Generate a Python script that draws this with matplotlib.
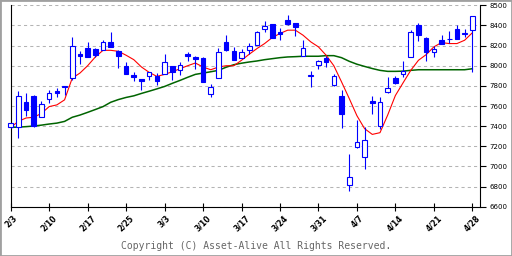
import numpy as np
import matplotlib
matplotlib.use('Agg')
import matplotlib.pyplot as plt
from matplotlib.patches import Rectangle

# Dados do grafico (leitura aproximada da imagem)
opens = [7390, 7390, 7635, 7700, 7490, 7668, 7745, 7800, 7880, 8117,
         8180, 8163, 8157, 8240, 8150, 8000, 7903, 7864, 7897, 7900,
         7917, 8000, 7957, 8117, 8090, 8074, 7717, 7877, 8233, 8144,
         8077, 8157, 8207, 8367, 8413, 8333, 8453, 8423, 8097, 7900,
         8007, 8074, 7807, 7700, 6812, 7188, 7091, 7654, 7398, 7740,
         7874, 7920, 8090, 8403, 8280, 8137, 8253, 8265, 8360, 8318,
         8350]
highs = [7435, 7745, 7734, 7705, 7654, 7761, 7781, 7802, 8283, 8144,
         8233, 8177, 8260, 8333, 8152, 8040, 7934, 7866, 7936, 7924,
         8114, 8002, 8034, 8137, 8092, 8084, 7820, 8173, 8303, 8183,
         8170, 8223, 8347, 8443, 8415, 8373, 8503, 8425, 8260, 7944,
         8060, 8100, 7914, 7761, 7124, 7464, 7394, 7704, 7691, 7884,
         7894, 8044, 8350, 8423, 8282, 8193, 8303, 8343, 8407, 8363,
         8492]
lows = [7385, 7280, 7504, 7395, 7488, 7634, 7687, 7714, 7854, 8014,
        8085, 8087, 8153, 8185, 7977, 7915, 7844, 7754, 7854, 7811,
        7915, 7854, 7907, 8047, 7970, 7835, 7694, 7875, 8151, 8052,
        8075, 8117, 8205, 8337, 8275, 8253, 8403, 8293, 8095, 7787,
        7970, 7987, 7794, 7377, 6758, 7185, 6978, 7517, 7374, 7727,
        7820, 7887, 8088, 8247, 8047, 8087, 8218, 8223, 8261, 8287,
        7937]
closes = [7430, 7700, 7560, 7400, 7620, 7730, 7728, 7787, 8200, 8100,
          8087, 8107, 8240, 8187, 8097, 7917, 7888, 7848, 7934, 7844,
          8034, 7940, 8010, 8097, 8064, 7837, 7790, 8140, 8153, 8054,
          8140, 8193, 8333, 8393, 8277, 8313, 8413, 8387, 8180, 7903,
          8044, 8037, 7900, 7517, 6891, 7244, 7261, 7631, 7644, 7780,
          7830, 7950, 8330, 8307, 8137, 8163, 8220, 8270, 8263, 8322,
          8490]

# media curta (vermelha) e media longa (verde)
ma_short = [7388, 7448, 7481, 7488, 7527, 7594, 7611, 7661, 7877, 7927,
            8000, 8087, 8153, 8153, 8143, 8104, 8060, 7987, 7934, 7894,
            7914, 7940, 7970, 8000, 8027, 7987, 7960, 7987, 8000, 8000,
            8054, 8114, 8170, 8220, 8280, 8320, 8353, 8353, 8303, 8237,
            8187, 8104, 8000, 7840, 7675, 7504, 7375, 7318, 7335, 7510,
            7704, 7830, 7954, 8054, 8110, 8187, 8230, 8220, 8220, 8253,
            8327]
ma_long = [7388, 7390, 7395, 7401, 7410, 7421, 7430, 7447, 7488, 7510,
           7537, 7565, 7594, 7637, 7664, 7685, 7701, 7725, 7747, 7770,
           7794, 7825, 7854, 7885, 7914, 7927, 7940, 7954, 7985, 8010,
           8025, 8037, 8047, 8060, 8070, 8080, 8087, 8090, 8094, 8094,
           8094, 8100, 8100, 8080, 8044, 8015, 7993, 7972, 7954, 7944,
           7944, 7946, 7954, 7960, 7960, 7960, 7960, 7960, 7960, 7960,
           7970]

date_labels = ['2/3', '2/10', '2/17', '2/25', '3/3', '3/10', '3/17',
               '3/24', '3/31', '4/7', '4/14', '4/21', '4/28']
ytick_values = [6600, 6800, 7000, 7200, 7400, 7600, 7800, 8000, 8200, 8400, 8600]
ytick_labels = ['6600', '6800', '7000', '7200', '7400', '7600', '7800',
                '8000', '8200', '8400', '8500']

blue = '#0000ff'

fig = plt.figure(figsize=(5.12, 2.56), dpi=100)
ax = fig.add_axes([10.7 / 512, 1 - 206.7 / 256, (480 - 10.7) / 512, (206.7 - 5.3) / 256])

x = np.arange(len(closes))
o = np.array(opens)
c = np.array(closes)

# linhas das medias
ax.plot(x, ma_long, color='#006400', lw=1.1, zorder=2)
ax.plot(x, ma_short, color='#ff0000', lw=0.8, zorder=2)

# candles
ax.vlines(x, lows, highs, color=blue, lw=0.8, zorder=3, clip_on=False)
up = c >= o
body_h = np.maximum(np.abs(c - o), 4)
body_bottom = np.minimum(o, c)
ax.bar(x[up], body_h[up], bottom=body_bottom[up], width=0.6,
       facecolor='white', edgecolor=blue, lw=0.8, zorder=4, clip_on=False)
ax.bar(x[~up], body_h[~up], bottom=body_bottom[~up], width=0.6,
       facecolor=blue, edgecolor=blue, lw=0.8, zorder=4, clip_on=False)

ax.set_xlim(0, 61)
ax.set_ylim(6600, 8600)

# eixos
ax.spines['top'].set_visible(False)
for s in ['left', 'bottom', 'right']:
    ax.spines[s].set_linewidth(0.8)
    ax.spines[s].set_color('black')

ax.yaxis.tick_right()
ax.set_yticks(ytick_values)
ax.set_yticklabels(ytick_labels)
ax.tick_params(axis='y', direction='out', length=4, width=0.8, labelsize=5, pad=3)

ax.set_xticks(np.arange(0, 61, 5))
ax.set_xticklabels(date_labels, rotation=45, ha='center', fontsize=5.5, fontweight='bold')
ax.tick_params(axis='x', direction='inout', length=6, width=0.8, pad=2)

ax.yaxis.grid(True, linestyle=(0, (3, 3)), color='#b4b4b4', lw=0.75)
ax.set_axisbelow(True)

fig.text(0.5, 1 - 246 / 256, 'Copyright (C) Asset-Alive All Rights Reserved.',
         ha='center', va='center', family='DejaVu Sans Mono', fontsize=7, color='#666666')

fig.add_artist(Rectangle((0, 0), 1, 1, transform=fig.transFigure, fill=False,
                         edgecolor='#a0a0a0', lw=2))

plt.savefig('out.png', dpi=100)
